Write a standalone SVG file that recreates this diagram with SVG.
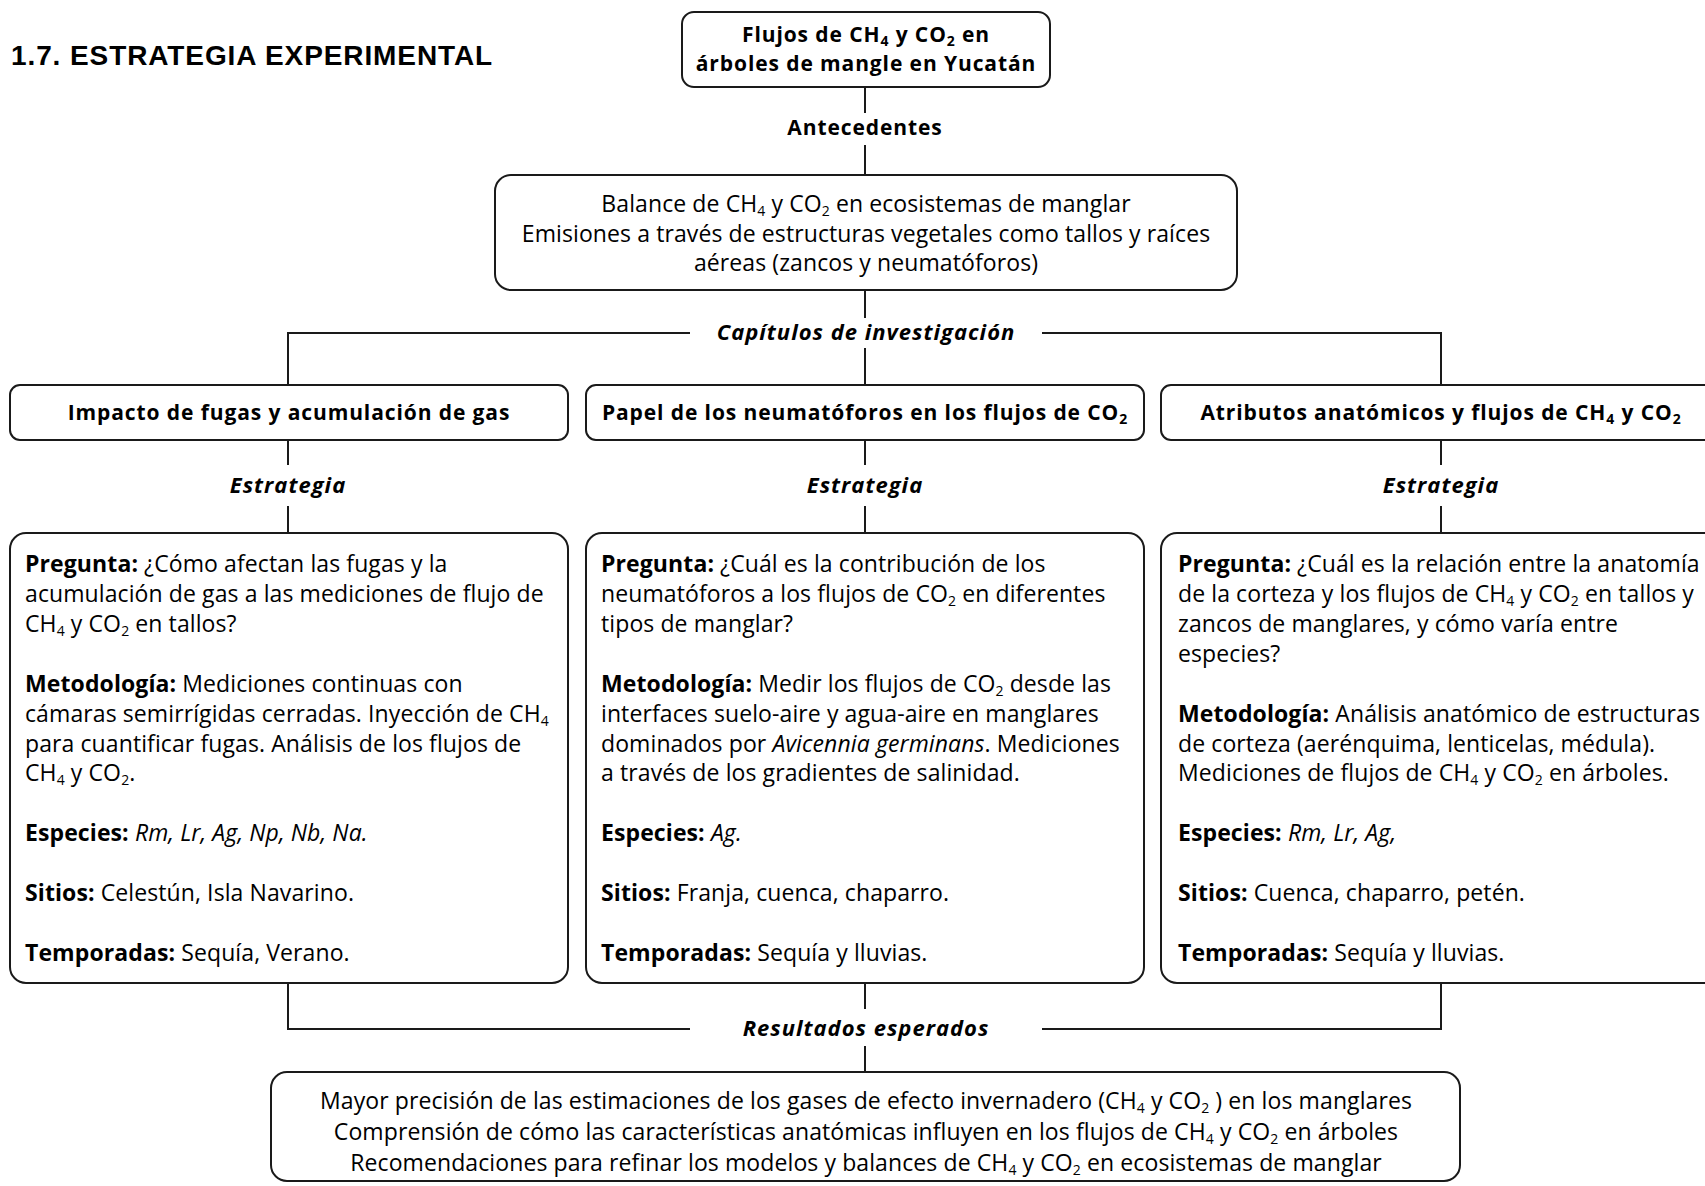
<svg xmlns="http://www.w3.org/2000/svg" width="1705" height="1186" viewBox="0 0 1705 1186">
<style>
text{font-family:"Open Sans","Liberation Sans",sans-serif;font-size:23px;fill:#000;letter-spacing:0.1px}
.title{font-family:"Liberation Sans",Arial,sans-serif;font-weight:bold;font-size:28px;letter-spacing:0.9px}
.h{font-weight:bold;font-size:21px;letter-spacing:0.9px}
.bi{font-weight:bold;font-style:italic;font-size:22px;letter-spacing:1px}
.b{font-weight:bold}
.i{font-style:italic}
.c{text-anchor:middle}
.box{fill:#fff;stroke:#1a1a1a;stroke-width:2}
.ln{stroke:#1a1a1a;stroke-width:2;fill:none}
.s{font-size:14px}
</style>
<rect width="1705" height="1186" fill="#fff"/>
<text class="title" x="11" y="65">1.7. ESTRATEGIA EXPERIMENTAL</text>

<g id="connectors">
<path class="ln" d="M865 87V113M865 145V175M865 290V318"/>
<path class="ln" d="M288 385V333H690M1042 333H1441V385M865 348V385"/>
<path class="ln" d="M288 440V465M865 440V465M1441 440V465M288 506V533M865 506V533M1441 506V533"/>
<path class="ln" d="M288 983V1029H690M1042 1029H1441V983M865 983V1009M865 1046V1072"/>
</g>
<g id="labels">
<text class="h c" x="865" y="135">Antecedentes</text>
<text class="bi c" x="866" y="340">Capítulos de investigación</text>
<text class="bi c" x="288" y="493">Estrategia</text>
<text class="bi c" x="865" y="493">Estrategia</text>
<text class="bi c" x="1441" y="493">Estrategia</text>
<text class="bi c" x="866" y="1036">Resultados esperados</text>
</g>

<g id="top">
<rect class="box" x="682" y="12" width="368" height="75" rx="12"/>
<text class="h c" x="866" y="42">Flujos de CH<tspan class="s" dy="4">4</tspan><tspan dy="-4"> y CO</tspan><tspan class="s" dy="4">2</tspan><tspan dy="-4"> en</tspan></text>
<text class="h c" x="866" y="71">árboles de mangle en Yucatán</text>
</g>

<g id="antecedentes">
<rect class="box" x="495" y="175" width="742" height="115" rx="16"/>
<text class="c" x="866" y="212">Balance de CH<tspan class="s" dy="4">4</tspan><tspan dy="-4"> y CO</tspan><tspan class="s" dy="4">2</tspan><tspan dy="-4"> en ecosistemas de manglar</tspan></text>
<text class="c" x="866" y="242">Emisiones a través de estructuras vegetales como tallos y raíces</text>
<text class="c" x="866" y="271">aéreas (zancos y neumatóforos)</text>
</g>

<g id="cap1">
<rect class="box" x="10" y="385" width="558" height="55" rx="10"/>
<text class="h c" x="289" y="420">Impacto de fugas y acumulación de gas</text>
</g>
<g id="cap2">
<rect class="box" x="586" y="385" width="558" height="55" rx="10"/>
<text class="h c" x="865" y="420">Papel de los neumatóforos en los flujos de CO<tspan class="s" dy="4">2</tspan></text>
</g>
<g id="cap3">
<rect class="box" x="1161" y="385" width="558" height="55" rx="10"/>
<text class="h c" x="1441" y="420">Atributos anatómicos y flujos de CH<tspan class="s" dy="4">4</tspan><tspan dy="-4"> y CO</tspan><tspan class="s" dy="4">2</tspan></text>
</g>

<g id="est1">
<rect class="box" x="10" y="533" width="558" height="450" rx="16"/>
<text x="25" y="572"><tspan class="b">Pregunta:</tspan> ¿Cómo afectan las fugas y la</text>
<text x="25" y="602">acumulación de gas  a las mediciones de flujo de</text>
<text x="25" y="632">CH<tspan class="s" dy="4">4</tspan><tspan dy="-4"> y CO</tspan><tspan class="s" dy="4">2</tspan><tspan dy="-4"> en tallos?</tspan></text>
<text x="25" y="692"><tspan class="b">Metodología:</tspan>  Mediciones continuas con</text>
<text x="25" y="722">cámaras semirrígidas cerradas. Inyección de CH<tspan class="s" dy="4">4</tspan></text>
<text x="25" y="752">para cuantificar fugas. Análisis de los flujos de</text>
<text x="25" y="781">CH<tspan class="s" dy="4">4</tspan><tspan dy="-4"> y CO</tspan><tspan class="s" dy="4">2</tspan><tspan dy="-4">.</tspan></text>
<text x="25" y="841"><tspan class="b">Especies:</tspan> <tspan class="i">Rm, Lr, Ag, Np, Nb, Na.</tspan></text>
<text x="25" y="901"><tspan class="b">Sitios:</tspan> Celestún, Isla Navarino.</text>
<text x="25" y="961"><tspan class="b">Temporadas:</tspan> Sequía, Verano.</text>
</g>

<g id="est2">
<rect class="box" x="586" y="533" width="558" height="450" rx="16"/>
<text x="601" y="572"><tspan class="b">Pregunta:</tspan> ¿Cuál es la contribución de los</text>
<text x="601" y="602">neumatóforos a los flujos de CO<tspan class="s" dy="4">2</tspan><tspan dy="-4"> en diferentes</tspan></text>
<text x="601" y="632">tipos de manglar?</text>
<text x="601" y="692"><tspan class="b">Metodología:</tspan> Medir los flujos de CO<tspan class="s" dy="4">2</tspan><tspan dy="-4"> desde las</tspan></text>
<text x="601" y="722">interfaces suelo-aire y agua-aire en manglares</text>
<text x="601" y="752">dominados por <tspan class="i">Avicennia germinans</tspan>. Mediciones</text>
<text x="601" y="781">a través de los gradientes de salinidad.</text>
<text x="601" y="841"><tspan class="b">Especies:</tspan> <tspan class="i">Ag.</tspan></text>
<text x="601" y="901"><tspan class="b">Sitios:</tspan> Franja, cuenca, chaparro.</text>
<text x="601" y="961"><tspan class="b">Temporadas:</tspan> Sequía y lluvias.</text>
</g>

<g id="est3">
<rect class="box" x="1161" y="533" width="558" height="450" rx="16"/>
<text x="1178" y="572"><tspan class="b">Pregunta:</tspan> ¿Cuál es la relación entre la anatomía</text>
<text x="1178" y="602">de la corteza y los flujos de CH<tspan class="s" dy="4">4</tspan><tspan dy="-4"> y CO</tspan><tspan class="s" dy="4">2</tspan><tspan dy="-4"> en tallos y</tspan></text>
<text x="1178" y="632">zancos de manglares, y cómo varía entre</text>
<text x="1178" y="662">especies?</text>
<text x="1178" y="722"><tspan class="b">Metodología:</tspan> Análisis anatómico de estructuras</text>
<text x="1178" y="752">de corteza (aerénquima, lenticelas, médula).</text>
<text x="1178" y="781">Mediciones de flujos de CH<tspan class="s" dy="4">4</tspan><tspan dy="-4"> y CO</tspan><tspan class="s" dy="4">2</tspan><tspan dy="-4"> en árboles.</tspan></text>
<text x="1178" y="841"><tspan class="b">Especies:</tspan> <tspan class="i">Rm, Lr, Ag,</tspan></text>
<text x="1178" y="901"><tspan class="b">Sitios:</tspan> Cuenca, chaparro, petén.</text>
<text x="1178" y="961"><tspan class="b">Temporadas:</tspan> Sequía y lluvias.</text>
</g>

<g id="resultados">
<rect class="box" x="271" y="1072" width="1189" height="109" rx="16"/>
<text class="c" x="866" y="1109">Mayor precisión de las estimaciones de los gases de efecto invernadero (CH<tspan class="s" dy="4">4</tspan><tspan dy="-4"> y CO</tspan><tspan class="s" dy="4">2</tspan><tspan dy="-4"> ) en los manglares</tspan></text>
<text class="c" x="866" y="1140">Comprensión de cómo las características anatómicas influyen en los flujos de CH<tspan class="s" dy="4">4</tspan><tspan dy="-4"> y CO</tspan><tspan class="s" dy="4">2</tspan><tspan dy="-4"> en árboles</tspan></text>
<text class="c" x="866" y="1171">Recomendaciones para refinar los modelos y balances de CH<tspan class="s" dy="4">4</tspan><tspan dy="-4"> y CO</tspan><tspan class="s" dy="4">2</tspan><tspan dy="-4"> en ecosistemas de manglar</tspan></text>
</g>
</svg>
